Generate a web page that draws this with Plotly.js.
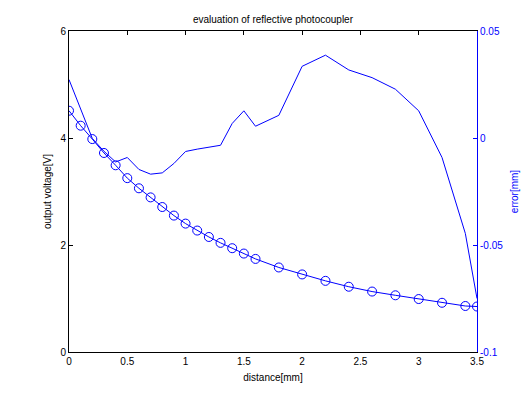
<!DOCTYPE html>
<html>
<head>
<meta charset="utf-8">
<script src="https://cdn.plot.ly/plotly-3.0.1.min.js"></script>
<style>html,body{margin:0;padding:0;background:#fff;}#chart{width:528px;height:396px;}</style>
</head>
<body>
<div id="chart"></div>
<script>
const distance = [0,0.1,0.2,0.3,0.4,0.5,0.6,0.7,0.8,0.9,1.0,1.1,1.2,1.3,1.4,1.5,1.6,1.8,2.0,2.2,2.4,2.6,2.8,3.0,3.2,3.4,3.5];
const voltage = [4.51,4.23,3.98,3.72,3.49,3.25,3.06,2.89,2.71,2.55,2.40,2.27,2.15,2.04,1.94,1.84,1.74,1.58,1.45,1.33,1.22,1.13,1.06,0.99,0.92,0.86,0.85];
const errorMm = [0.0273,0.0138,-0.0002,-0.0062,-0.0112,-0.0091,-0.0147,-0.0169,-0.0163,-0.0119,-0.0063,-0.0052,-0.0042,-0.0034,0.0068,0.0127,0.0055,0.0106,0.0335,0.0387,0.0318,0.0282,0.0228,0.0127,-0.0091,-0.0446,-0.075];
const xTicks = [0,0.5,1,1.5,2,2.5,3,3.5];
const yTicks = [0,2,4,6];
const y2Ticks = [-0.1,-0.05,0,0.05];
const y2TickText = ['-0.1','-0.05','0','0.05'];

const blue = '#0000ff';
const font = {family: 'Liberation Sans, Arial, sans-serif', size: 10, color: '#000'};

const traces = [
  {x: distance, y: voltage, type: 'scatter', mode: 'lines+markers', xaxis: 'x', yaxis: 'y',
   line: {color: blue, width: 1}, marker: {symbol: 'circle-open', size: 9, color: blue, line: {width: 1, color: blue}}},
  {x: distance, y: errorMm, type: 'scatter', mode: 'lines', xaxis: 'x2', yaxis: 'y2',
   line: {color: blue, width: 1}}
];

const layout = {
  width: 528, height: 396,
  margin: {l: 69, r: 51, t: 31, b: 44},
  paper_bgcolor: '#fff', plot_bgcolor: '#fff',
  showlegend: false,
  font: font,
  title: {text: 'evaluation of reflective photocoupler', font: font, x: 0.517, xanchor: 'center', yref: 'container', y: 0.952, yanchor: 'middle'},
  xaxis: {range: [0, 3.5], tickvals: xTicks, ticktext: xTicks.map(String), ticks: '', showline: true, linecolor: '#000', linewidth: 1,
          showgrid: false, zeroline: false, tickfont: font, title: {text: 'distance[mm]', font: font, standoff: 7}},
  xaxis2: {range: [0, 3.5], overlaying: 'x', side: 'top', anchor: 'y2', tickvals: xTicks, ticks: 'inside', ticklen: 4, tickcolor: '#000',
           showticklabels: false, showline: true, linecolor: '#000', linewidth: 1, showgrid: false, zeroline: false},
  yaxis: {range: [0, 6], tickvals: yTicks, ticktext: yTicks.map(String), ticks: 'inside', ticklen: 4, tickcolor: '#000',
          showline: true, linecolor: '#000', linewidth: 1, showgrid: false, zeroline: false, tickfont: font,
          title: {text: 'output voltage[V]', font: font, standoff: 6}},
  yaxis2: {range: [-0.1, 0.05], overlaying: 'y', side: 'right', anchor: 'x2', tickvals: y2Ticks, ticktext: y2TickText,
           ticks: 'inside', ticklen: 4, tickcolor: blue, showline: true, linecolor: blue, linewidth: 1,
           showgrid: false, zeroline: false, tickfont: {family: font.family, size: 10, color: blue},
           title: {text: 'error[mm]', font: {family: font.family, size: 10, color: blue}, standoff: 8}}
};

Plotly.newPlot('chart', traces, layout, {displayModeBar: false, staticPlot: true});
</script>
</body>
</html>
